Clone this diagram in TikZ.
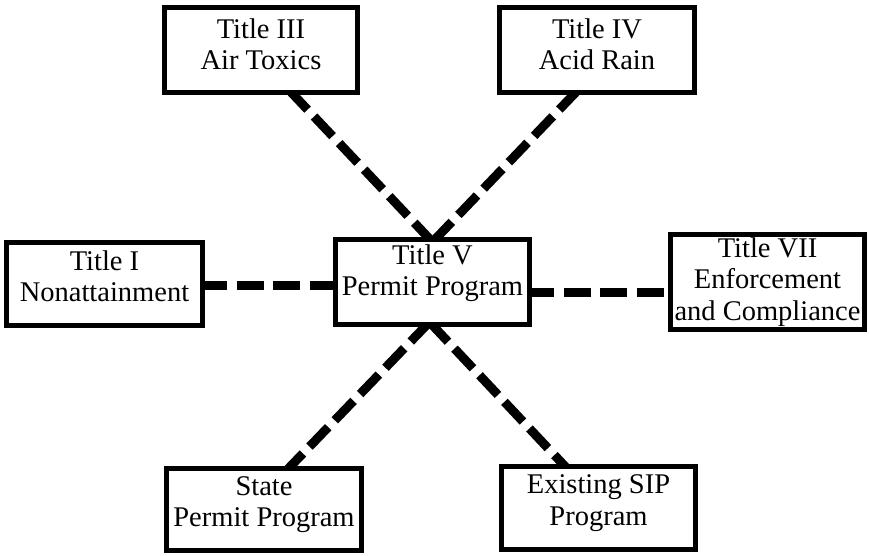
\documentclass[tikz,border=0pt]{standalone}
\usepackage{fontspec}
\setmainfont{Liberation Serif}
\usetikzlibrary{calc}
\begin{document}
\begin{tikzpicture}[x=1pt,y=-1pt,
  box/.style={draw, line width=5pt, fill=white, inner sep=0pt, outer sep=0pt},
  lbl/.style={align=center, inner sep=0pt, font=\fontsize{28.5}{31.5}\selectfont},
  link/.style={line width=9pt, dash pattern=on 27pt off 9.5pt}]
\useasboundingbox (0,0) rectangle (869,555);
% boxes (outer size minus line width)
\node[box, minimum width=193pt, minimum height=85pt] (t3) at (261,50) {};
\node[box, minimum width=195pt, minimum height=85pt] (t4) at (597,50) {};
\node[box, minimum width=196pt, minimum height=83pt] (t1) at (104.5,284) {};
\node[box, minimum width=194pt, minimum height=85pt] (t5) at (432.5,282) {};
\node[box, minimum width=194pt, minimum height=95pt] (t7) at (767.5,282) {};
\node[box, minimum width=195pt, minimum height=82pt] (st) at (264,509.5) {};
\node[box, minimum width=194pt, minimum height=83pt] (sip) at (598.5,508) {};
% connectors
\coordinate (a3) at ($(t3.south)+(28,-2.5)$);
\coordinate (a4) at ($(t4.south)+(-19,-2.5)$);
\coordinate (a5n) at ($(t5.north)+(0,2.5)$);
\coordinate (a5s) at ($(t5.south)+(-3,-2.5)$);
\coordinate (ast) at ($(st.north)+(22,2.5)$);
\coordinate (asip) at ($(sip.north)+(-31,2.5)$);
\coordinate (a1) at ($(t1.east)+(-2.5,1)$);
\coordinate (a5w) at ($(t5.west)+(2.5,0)$);
\coordinate (a5e) at ($(t5.east)+(-2.5,10)$);
\coordinate (a7w) at ($(t7.west)+(2.5,0)$);
\draw[link] (a3) -- (a5n);
\draw[link] (a4) -- (a5n);
\draw[link] (a1) -- (a1 -| a5w);
\draw[link] (a5e) -- (a5e -| a7w);
\draw[link] (a5s) -- (ast);
\draw[link] (a5s) -- (asip);
% redraw boxes on top of the connector ends
\foreach \n in {t3,t4,t1,t5,t7,st,sip}{
  \draw[line width=5pt, fill=white] (\n.north west) rectangle (\n.south east);
}
% labels
\node[lbl] (l3) at ($(t3.center)+(0,-6)$) {Title III\\Air Toxics};
\node[lbl] (l4) at ($(t4.center)+(0,-6)$) {Title IV\\Acid Rain};
\node[lbl] (l1) at ($(t1.center)+(0,-8)$) {Title I\\Nonattainment};
\node[lbl] (l5) at ($(t5.center)+(0,-9)$) {Title V\\Permit Program};
\node[lbl] (l7) at ($(t7.center)+(0,0)$) {Title VII\\Enforcement\\and Compliance};
\node[lbl] (lst) at ($(st.center)+(0,-5)$) {State\\Permit Program};
\node[lbl] (lsip) at ($(sip.center)+(0,-5)$) {Existing SIP\\Program};
\end{tikzpicture}
\end{document}
